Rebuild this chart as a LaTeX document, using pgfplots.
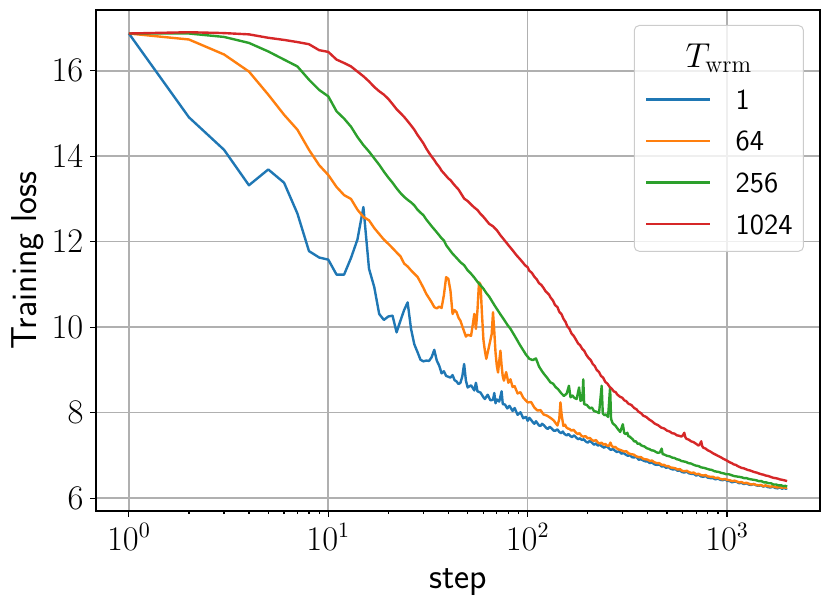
\documentclass[border=0pt]{standalone}
\usepackage{pgfplots}
\pgfplotsset{compat=1.18}
\definecolor{cblue}{HTML}{1F77B4}
\definecolor{corange}{HTML}{FF7F0E}
\definecolor{cgreen}{HTML}{2CA02C}
\definecolor{cred}{HTML}{D62728}
\definecolor{gridc}{HTML}{B0B0B0}
\definecolor{legc}{HTML}{CCCCCC}
\begin{document}
\begin{tikzpicture}
\begin{axis}[
  name=ax,
  scale only axis,
  width=362pt, height=250.5pt,
  xmode=log,
  xmin=0.684, xmax=2924,
  ymin=5.7, ymax=17.42,
  xtick={1,10,100,1000},
  ytick={6,8,10,12,14,16},
  tick pos=left,
  tick align=outside,
  major tick length=2.8pt,
  minor tick length=1.6pt,
  every tick/.style={black, line width=0.6pt},
  grid=major,
  major grid style={gridc, line width=0.8pt},
  axis line style={black, line width=0.8pt},
  tick label style={font=\fontsize{16}{19}\selectfont},
  xlabel={step},
  ylabel={Training loss},
  label style={font=\sffamily\fontsize{18}{21}\selectfont},
  xlabel style={yshift=-2.5pt},
  ylabel style={yshift=-3pt},
  legend cell align=left,
  legend image code/.code={\draw[#1, line width=1.2pt] (0pt,0pt) -- (32pt,0pt);},
  legend style={
    at={(axis description cs:1,1)}, anchor=north east, xshift=-8pt, yshift=-7.5pt,
    draw=legc, fill=white, fill opacity=0.8, draw opacity=1, text opacity=1,
    rounded corners=2.5pt, line width=0.5pt,
    font=\sffamily\fontsize{14.5}{17}\selectfont,
    inner xsep=5.5pt, inner ysep=8.6pt,
    row sep=10.8pt, column sep=12pt,
    nodes={inner sep=0pt, text height=10pt, text depth=0pt},
  },
  every axis plot/.append style={line width=1.2pt, line join=round},
]
\addlegendimage{empty legend}
\addlegendentry[text height=12.5pt]{\hspace*{-25pt}\fontsize{18}{20}\selectfont$T_{\mathrm{wrm}}$}

\addplot[cblue] coordinates {
(1,16.87)(2,14.91)(3,14.15)(4,13.32)(5,13.69)(6,13.38)(7,12.66)(8,11.78)(9,11.63)(10,11.58)
(11,11.23)(12,11.23)(13,11.62)(14,12.05)(15,12.81)(16,11.37)(17,10.94)(18,10.31)(19,10.17)(20,10.25)
(21,10.27)(22,9.88)(23,10.15)(24,10.40)(25,10.58)(26,9.96)(27,9.60)(28,9.42)(29,9.24)(30,9.20)
(31,9.22)(32,9.21)(33,9.30)(34,9.47)(35,9.22)(36,9.10)(37,8.92)(38,8.97)(39,8.86)(40,8.84)
(41,8.82)(42,8.88)(43,8.76)(44,8.73)(45,8.67)(46,8.70)(47,8.85)(48,9.14)(49,8.75)(50,8.59)
(52,8.64)(54,8.52)(55,8.70)(56,8.50)(58,8.47)(60,8.36)(61,8.32)(63,8.42)(65,8.29)(67,8.30)
(68,8.46)(69,8.22)(70,8.31)(72,8.26)(74,8.50)(75,8.20)(77,8.19)(79,8.10)(81,8.16)(84,8.04)
(86,8.11)(89,7.95)(92,8.01)(95,7.87)(98,7.90)
(100,7.81)(102,7.88)(104,7.83)(106,7.78)(108,7.74)(110,7.80)(112,7.75)(114,7.70)(116,7.69)(118,7.74)
(121,7.70)(124,7.64)(126,7.62)(129,7.67)(132,7.63)(135,7.58)(138,7.58)(141,7.61)(144,7.55)(147,7.52)
(150,7.56)(153,7.50)(157,7.47)(160,7.50)(164,7.45)(167,7.43)(171,7.47)(175,7.42)(179,7.38)(183,7.40)
(187,7.36)(191,7.38)(195,7.33)(200,7.30)(205,7.34)(210,7.30)(215,7.25)(220,7.28)(225,7.23)(230,7.25)
(236,7.21)(242,7.18)(248,7.22)(255,7.17)(261,7.13)(268,7.15)(274,7.11)(280,7.08)(288,7.10)(295,7.04)
(302,7.06)(310,7.02)(318,6.99)(325,7.01)(333,6.96)(342,6.95)(351,6.97)(360,6.90)(370,6.91)(380,6.88)
(390,6.86)(400,6.86)(410,6.82)(420,6.84)(432,6.79)(445,6.78)(457,6.79)(470,6.74)(482,6.75)(495,6.71)
(508,6.73)(520,6.69)(535,6.67)(550,6.68)(565,6.64)(580,6.65)(595,6.61)(610,6.60)(628,6.62)(645,6.58)
(662,6.57)(680,6.57)(700,6.53)(720,6.55)(740,6.51)(760,6.50)(780,6.52)(800,6.48)(825,6.47)(850,6.47)
(875,6.44)(900,6.46)(925,6.43)(950,6.42)(975,6.44)(1000,6.41)(1030,6.40)(1060,6.37)(1090,6.39)(1120,6.38)
(1150,6.35)(1180,6.36)(1215,6.33)(1250,6.35)(1285,6.32)(1320,6.31)(1360,6.33)(1400,6.30)(1440,6.29)(1480,6.30)
(1520,6.27)(1560,6.29)(1600,6.26)(1650,6.25)(1700,6.27)(1740,6.24)(1790,6.23)(1840,6.25)(1890,6.22)(1930,6.24)
(1970,6.22)(2000,6.23)
};
\addlegendentry{1}

\addplot[corange] coordinates {
(1,16.87)(2,16.73)(3,16.38)(4,15.98)(5,15.44)(6,14.97)(7,14.62)(8,14.15)(9,13.79)(10,13.56)
(11,13.28)(12,13.09)(13,13.00)(14,12.75)(15,12.58)(16,12.50)(17,12.32)(18,12.18)(19,12.05)(20,11.95)
(21,11.85)(22,11.75)(23,11.66)(24,11.49)(25,11.42)(26,11.33)(27,11.25)(28,11.18)(29,11.05)(30,10.92)
(31,10.78)(32,10.68)(33,10.58)(34,10.47)(35,10.44)(36,10.48)(37,10.45)(38,10.75)(39,11.17)(40,11.13)
(41,10.85)(42,10.31)(43,10.40)(44,10.35)(45,10.22)(46,10.15)(47,10.02)(48,9.90)(49,9.78)(50,9.82)
(52,9.80)(53,10.05)(54,10.31)(55,9.96)(56,10.40)(57,11.05)(58,11.00)(59,10.30)(60,9.70)(61,9.45)
(62,9.26)(64,9.55)(66,9.84)(67,10.35)(68,9.90)(69,9.40)(70,9.10)(71,8.94)(72,9.20)(73,9.45)
(74,9.10)(75,8.85)(76,8.75)(78,8.95)(80,8.70)(82,8.78)(84,8.60)(86,8.62)(89,8.45)(92,8.48)
(95,8.35)(100,8.24)(104,8.25)(108,8.12)(112,8.05)(116,8.06)(120,7.96)(125,7.93)(130,7.88)(135,7.82)
(141,7.70)(144,7.85)(146,8.24)(148,7.95)
(151,7.69)(154,7.72)(156,7.66)(159,7.63)(162,7.62)(166,7.58)(170,7.60)(174,7.54)(178,7.50)(182,7.52)
(186,7.46)(190,7.44)(195,7.45)(200,7.40)(205,7.41)(210,7.36)(215,7.34)(220,7.36)(225,7.30)(230,7.28)
(235,7.30)(240,7.25)(245,7.27)(250,7.23)(255,7.22)(260,7.30)(264,7.22)(270,7.19)(275,7.20)(281,7.16)
(286,7.14)(291,7.13)(298,7.11)(305,7.09)(312,7.10)(320,7.05)(330,7.03)(340,7.02)(350,6.98)(360,6.96)
(370,6.96)(380,6.92)(390,6.91)(400,6.90)(410,6.87)(420,6.88)(432,6.84)(445,6.82)(457,6.82)(470,6.78)
(482,6.78)(495,6.75)(508,6.75)(520,6.72)(535,6.71)(550,6.70)(565,6.67)(580,6.68)(595,6.64)(610,6.63)
(628,6.64)(645,6.61)(662,6.59)(680,6.60)(700,6.56)(720,6.57)(740,6.54)(760,6.53)(780,6.54)(800,6.51)
(825,6.50)(850,6.50)(875,6.47)(900,6.48)(925,6.45)(950,6.44)(975,6.45)(1000,6.43)(1030,6.42)(1060,6.40)
(1090,6.41)(1120,6.39)(1150,6.37)(1180,6.38)(1215,6.35)(1250,6.36)(1285,6.34)(1320,6.32)(1360,6.33)(1400,6.31)
(1440,6.30)(1480,6.31)(1520,6.28)(1560,6.30)(1600,6.28)(1650,6.27)(1700,6.28)(1740,6.26)(1790,6.25)(1840,6.26)
(1890,6.24)(1930,6.26)(1970,6.24)(2000,6.25)
};
\addlegendentry{64}

\addplot[cgreen] coordinates {
(1,16.87)(2,16.87)(3,16.79)(4,16.65)(5,16.45)(6,16.26)(7,16.10)(8,15.79)(9,15.55)(10,15.40)
(11,15.05)(12,14.88)(13,14.69)(14,14.45)(15,14.26)(16,14.11)(17,13.95)(18,13.80)(19,13.64)(20,13.50)
(21,13.38)(22,13.25)(23,13.14)(24,13.05)(25,12.98)(26,12.92)(27,12.85)(28,12.75)(29,12.68)(30,12.62)
(31,12.52)(32,12.44)(33,12.36)(34,12.29)(35,12.22)(36,12.15)(37,12.08)(38,12.03)(39,11.92)(40,11.85)
(42,11.72)(44,11.62)(46,11.52)(48,11.45)(50,11.33)(52,11.25)(54,11.16)(56,11.06)(58,10.98)(60,10.90)
(62,10.80)(64,10.72)(66,10.62)(68,10.52)(70,10.43)(73,10.30)(76,10.18)(79,10.06)(82,9.96)(85,9.84)
(88,9.72)(91,9.60)(95,9.46)(98,9.36)(102,9.26)(106,9.23)(110,9.27)(114,9.08)(118,8.97)(121,8.90)
(125,8.82)(130,8.71)(134,8.68)(138,8.60)(142,8.55)(147,8.46)(152,8.39)(157,8.45)(161,8.63)(164,8.36)
(168,8.40)(171,8.35)(176,8.32)(181,8.59)(184,8.28)(188,8.30)(190,8.78)(192,8.20)(198,8.18)(205,8.10)
(210,8.12)(215,8.04)(222,8.02)(228,7.99)(235,8.63)(238,7.98)(243,7.94)(247,7.96)(253,7.90)(259,8.59)
(262,7.85)(267,7.75)(275,7.70)(283,7.62)(291,7.55)
(300,7.73)(305,7.52)(311,7.50)(316,7.53)(320,7.45)(325,7.44)(330,7.41)(336,7.38)(342,7.33)(349,7.33)
(356,7.27)(363,7.28)(370,7.24)(378,7.22)(385,7.21)(395,7.17)(407,7.15)(418,7.12)(430,7.11)(440,7.08)
(450,7.06)(460,7.07)(470,7.16)(475,7.03)(485,7.02)(500,6.99)(515,6.98)(530,6.95)(545,6.94)(560,6.91)
(575,6.90)(590,6.87)(605,6.86)(620,6.85)(640,6.82)(660,6.81)(680,6.78)(700,6.76)(720,6.75)(742,6.72)
(765,6.71)(790,6.69)(815,6.67)(840,6.66)(865,6.63)(890,6.62)(913,6.61)(936,6.59)(963,6.58)(990,6.56)
(1020,6.56)(1050,6.54)(1080,6.52)(1110,6.51)(1145,6.50)(1180,6.49)(1215,6.47)(1250,6.47)(1285,6.45)(1320,6.44)
(1360,6.43)(1400,6.42)(1440,6.40)(1485,6.40)(1530,6.37)(1570,6.37)(1615,6.35)(1660,6.35)(1710,6.32)(1760,6.32)
(1815,6.30)(1870,6.30)(1920,6.28)(1960,6.29)(2000,6.27)
};
\addlegendentry{256}

\addplot[cred] coordinates {
(1,16.87)(2,16.90)(3,16.88)(4,16.85)(5,16.77)(6,16.72)(7,16.67)(8,16.62)(9,16.48)(10,16.44)
(11,16.26)(12,16.18)(13,16.10)(14,15.98)(15,15.87)(16,15.75)(17,15.62)(18,15.52)(19,15.44)(20,15.34)
(21,15.22)(22,15.10)(23,15.01)(24,14.92)(25,14.82)(26,14.72)(27,14.62)(28,14.50)(29,14.40)(30,14.30)
(31,14.18)(32,14.08)(33,13.99)(34,13.91)(35,13.82)(36,13.75)(37,13.66)(38,13.60)(40,13.48)(41,13.44)
(43,13.32)(45,13.22)(48,13.01)(50,12.95)(52,12.87)(54,12.80)(56,12.74)(58,12.65)(60,12.58)(62,12.50)
(64,12.42)(67,12.36)(70,12.27)(73,12.15)(76,12.05)(80,11.92)(84,11.80)(88,11.68)(92,11.58)
(97,11.45)(100,11.40)(102,11.32)(105,11.27)(108,11.18)(111,11.12)(114,11.03)(117,10.99)(120,10.92)(123,10.84)
(125,10.81)(128,10.76)(130,10.70)(134,10.62)(137,10.52)(141,10.47)(144,10.36)(148,10.30)(151,10.20)(155,10.12)
(158,10.02)(162,9.96)(166,9.85)(170,9.80)(175,9.70)(179,9.62)(183,9.58)(188,9.49)(192,9.45)(197,9.35)
(202,9.28)(207,9.23)(212,9.14)(217,9.09)(222,9.00)(228,8.95)(233,8.86)(239,8.82)(245,8.72)(251,8.68)
(258,8.60)(264,8.56)(270,8.50)(276,8.48)(282,8.42)(291,8.37)(298,8.35)(305,8.29)(312,8.27)(320,8.21)
(331,8.18)(342,8.11)(351,8.08)(360,8.02)(370,7.99)(380,7.93)(393,7.90)(407,7.84)(420,7.80)(435,7.74)
(450,7.71)(468,7.65)(484,7.63)(500,7.58)(515,7.56)(530,7.52)(545,7.51)(560,7.47)(575,7.46)(590,7.44)
(600,7.47)(610,7.53)(617,7.43)(625,7.39)(642,7.37)(660,7.33)(680,7.31)(700,7.27)(710,7.25)(720,7.23)
(732,7.27)(742,7.33)(750,7.22)(760,7.18)(780,7.16)(800,7.12)(825,7.09)(850,7.05)(875,7.02)(900,6.99)
(918,6.97)(936,6.95)(958,6.92)(980,6.90)(1005,6.87)(1030,6.84)(1055,6.82)(1080,6.79)(1105,6.78)(1130,6.75)
(1155,6.73)(1180,6.71)(1210,6.70)(1240,6.68)(1270,6.66)(1300,6.65)(1335,6.63)(1370,6.61)(1405,6.60)(1440,6.58)
(1485,6.56)(1520,6.55)(1560,6.53)(1605,6.52)(1650,6.50)(1695,6.48)(1740,6.47)(1790,6.46)(1840,6.44)(1885,6.43)
(1930,6.42)(1965,6.41)(2000,6.40)
};
\addlegendentry{1024}
\end{axis}
\pgfresetboundingbox
\path[use as bounding box] ([xshift=-48pt,yshift=-47pt]ax.south west) rectangle ([xshift=5pt,yshift=5pt]ax.north east);
\end{tikzpicture}
\end{document}
